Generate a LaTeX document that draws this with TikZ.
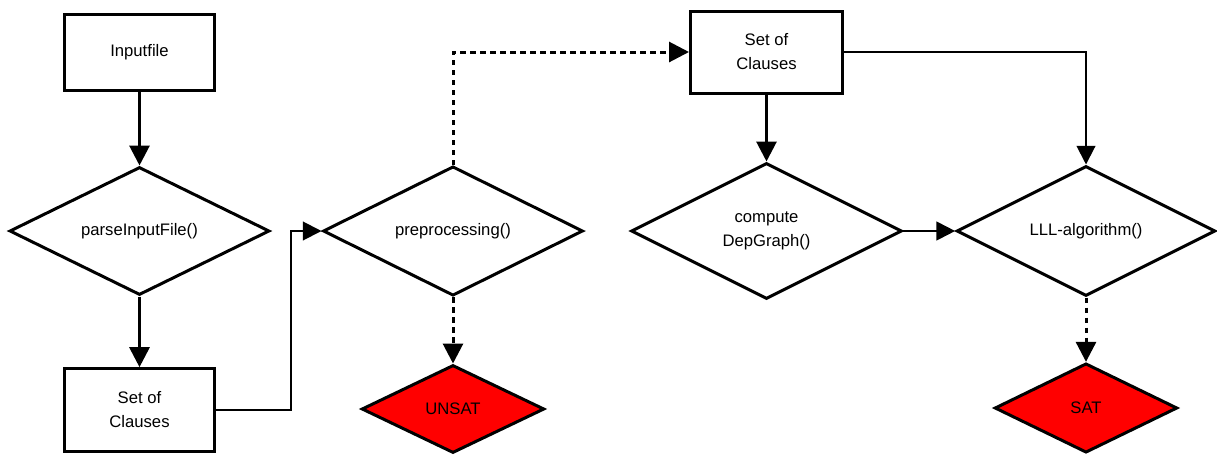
\documentclass[tikz,border=0pt]{standalone}
\usepackage{fontspec}
\setmainfont{Liberation Sans}
\usetikzlibrary{shapes.geometric,arrows.meta}
\begin{document}
\begin{tikzpicture}[x=0.75pt,y=-0.75pt,
  every node/.style={font=\fontsize{12.5}{18}\selectfont, align=center, text=black},
  box/.style={draw, line width=2.25pt, inner sep=0pt, fill=white},
  dec/.style={draw, diamond, line width=2.25pt, inner sep=0pt, aspect=2, fill=white},
  endd/.style={dec, fill=red},
  arr/.style={line width=2.25pt, -{Triangle[length=15pt,width=15pt]}},
  thinarr/.style={line width=1.5pt, -{Triangle[length=14pt,width=14pt]}},
  dasharr/.style={arr, dash pattern=on 4pt off 3.5pt},
]
\useasboundingbox (0,0) rectangle (1217,454);
\node[box, minimum width=113pt, minimum height=57pt] (in) at (139.5,52) {Inputfile};
\node[dec, minimum width=195pt, minimum height=96pt] (parse) at (139.5,231) {parseInputFile()};
\node[box, minimum width=112.5pt, minimum height=62pt] (soc1) at (139.5,410) {Set of\\Clauses};
\node[dec, minimum width=195pt, minimum height=97pt] (pre) at (453,231) {preprocessing()};
\node[endd, minimum width=137pt, minimum height=66pt] (unsat) at (453,409) {UNSAT};
\node[box, minimum width=114pt, minimum height=61.5pt] (soc2) at (766.5,52) {Set of\\Clauses};
\node[dec, minimum width=203pt, minimum height=102pt] (dep) at (766.5,231) {compute\\DepGraph()};
\node[dec, minimum width=194pt, minimum height=97.5pt] (lll) at (1086,231) {LLL-algorithm()};
\node[endd, minimum width=137pt, minimum height=67pt] (sat) at (1086,408) {SAT};

\draw[arr] (in) -- (parse);
\draw[arr] (parse) -- (soc1);
\draw[thinarr] (soc1.east) -- ++(75,0) |- (pre.west);
\draw[dasharr] (pre.north) |- (soc2.west);
\draw[dasharr] (pre) -- (unsat);
\draw[arr] (soc2) -- (dep);
\draw[thinarr] (dep) -- (lll);
\draw[thinarr] (soc2.east) -| (lll.north);
\draw[dasharr] (lll) -- (sat);
\end{tikzpicture}
\end{document}
